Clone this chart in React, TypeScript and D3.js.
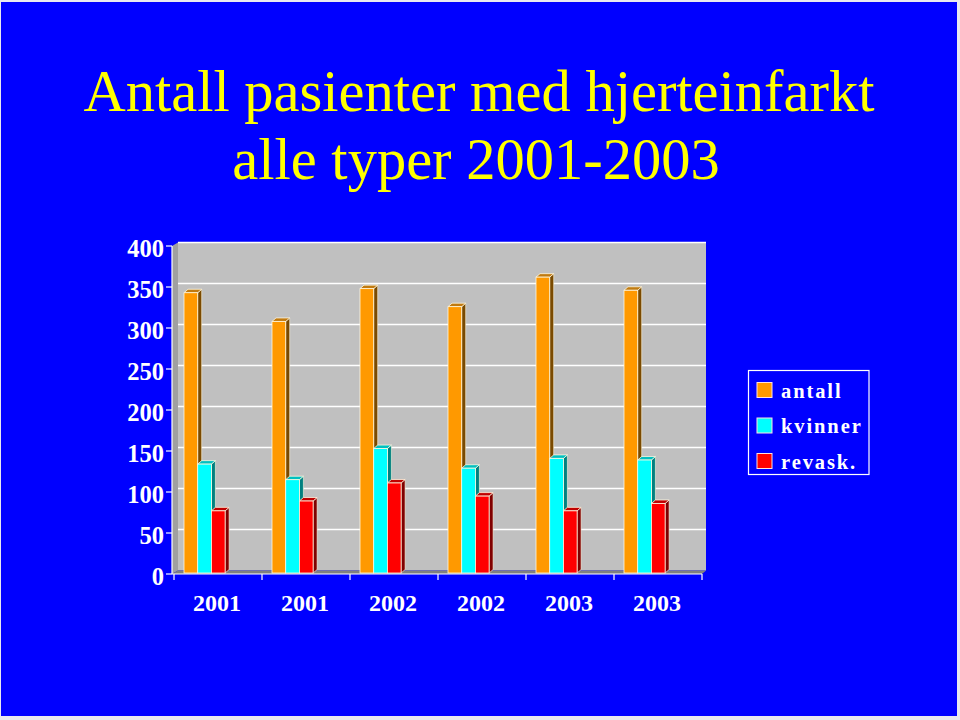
import React from "react";
import * as d3 from "d3";

const categories = ["2001", "2001", "2002", "2002", "2003", "2003"];
const seriesNames = ["antall", "kvinner", "revask."];
const antall = [343, 308, 348, 326, 362, 346];
const kvinner = [134, 115, 153, 129, 141, 139];
const revask = [77, 89, 111, 95, 77, 86];
const yTicks = [0, 50, 100, 150, 200, 250, 300, 350, 400];

const frontColors = ["#FF9900", "#00FFFF", "#FF0000"];
const sideColors = ["#7A4A00", "#008080", "#800000"];
const topColors = ["#C07A10", "#00C0C0", "#C00000"];

const W = 960;
const H = 720;
const x0 = 174;
const x1 = 702;
const yTop = 246;
const yBot = 574;
const DX = 4;
const DY = -3.5;

export default function App() {
  const series = [antall, kvinner, revask];
  const y = d3.scaleLinear().domain([0, 400]).range([yBot, yTop]);
  const xBand = d3.scaleBand<number>().domain(d3.range(categories.length)).range([x0, x1]).padding(0);
  const bw = 13.7;
  const innerOffset = 10;

  const bars: React.ReactNode[] = [];
  categories.forEach((_, ci) => {
    series.forEach((vals, si) => {
      const v = vals[ci];
      const bx = (xBand(ci) as number) + innerOffset + si * bw;
      const by = y(v);
      const bb = y(0) - 1;
      bars.push(
        <g key={`b-${ci}-${si}`}>
          <polygon
            points={`${bx + bw},${by} ${bx + bw + DX},${by + DY} ${bx + bw + DX},${bb + DY} ${bx + bw},${bb}`}
            fill={sideColors[si]}
            stroke="#FFF8E0"
            strokeWidth={0.6}
          />
          <polygon
            points={`${bx},${by} ${bx + DX},${by + DY} ${bx + bw + DX},${by + DY} ${bx + bw},${by}`}
            fill={topColors[si]}
            stroke="#FFF8E0"
            strokeWidth={0.8}
          />
          <rect x={bx} y={by} width={bw} height={bb - by} fill={frontColors[si]} stroke="#FFF8E0" strokeWidth={0.8} />
        </g>
      );
    });
  });

  const serif = "'Liberation Serif', 'Times New Roman', serif";

  return (
    <svg width={W} height={H} style={{ display: "block", position: "absolute", left: 0, top: 0 }}>
      <rect x={0} y={0} width={W} height={H} fill="#E8E8F0" />
      <rect x={1} y={2} width={956} height={714} fill="#0000FF" />

      <text x={479} y={111} textAnchor="middle" fill="#FFFF00" fontFamily={serif} fontSize={58.5}>
        Antall pasienter med hjerteinfarkt
      </text>
      <text x={476} y={179} textAnchor="middle" fill="#FFFF00" fontFamily={serif} fontSize={58.5}>
        alle typer 2001-2003
      </text>

      {/* walls */}
      <polygon
        points={`${x0 + DX},${yTop + DY} ${x1 + DX},${yTop + DY} ${x1 + DX},${yBot + DY} ${x0 + DX},${yBot + DY}`}
        fill="#C0C0C0"
      />
      <polygon
        points={`${x0 - 2},${yTop} ${x0 + DX},${yTop + DY} ${x0 + DX},${yBot + DY} ${x0 - 2},${yBot}`}
        fill="#A0A0A0"
      />
      {yTicks.filter((t) => t > 0).map((t) => (
        <line
          key={`g-${t}`}
          x1={x0 + DX}
          x2={x1 + DX}
          y1={y(t) + DY}
          y2={y(t) + DY}
          stroke="#FFFFFF"
          strokeWidth={1.5}
        />
      ))}
      <polygon
        points={`${x0 - 2},${yBot} ${x0 + DX},${yBot + DY} ${x1 + DX},${yBot + DY} ${x1},${yBot}`}
        fill="#808080"
      />

      {bars}

      {/* axes */}
      <line x1={x0 - 2} x2={x0 - 2} y1={yTop} y2={yBot} stroke="#FFFFFF" strokeWidth={1.2} />
      <line x1={x0 - 2} x2={x1} y1={yBot} y2={yBot} stroke="#FFFFFF" strokeWidth={1.2} />
      {yTicks.map((t) => (
        <g key={`yt-${t}`}>
          <line x1={x0 - 8} x2={x0 - 2} y1={y(t)} y2={y(t)} stroke="#FFFFFF" strokeWidth={1.2} />
          <text
            x={164}
            y={y(t) + 10.5}
            textAnchor="end"
            fill="#FFFFFF"
            fontWeight="bold"
            fontFamily={serif}
            fontSize={24.5}
          >
            {t}
          </text>
        </g>
      ))}
      {d3.range(categories.length + 1).map((i) => (
        <line
          key={`xt-${i}`}
          x1={x0 + i * xBand.bandwidth()}
          x2={x0 + i * xBand.bandwidth()}
          y1={yBot}
          y2={yBot + 6}
          stroke="#FFFFFF"
          strokeWidth={1.2}
        />
      ))}
      {categories.map((c, i) => (
        <text
          key={`xl-${i}`}
          x={(xBand(i) as number) + xBand.bandwidth() / 2 - 1}
          y={610.5}
          textAnchor="middle"
          fill="#FFFFFF"
          fontWeight="bold"
          fontFamily={serif}
          fontSize={24}
        >
          {c}
        </text>
      ))}

      {/* legend */}
      <rect x={748.5} y={370.5} width={120.5} height={104} fill="none" stroke="#FFFFFF" strokeWidth={1.2} />
      {seriesNames.map((n, i) => (
        <g key={`lg-${i}`}>
          <rect x={757} y={382.5 + i * 35.5} width={15} height={15} fill={frontColors[i]} stroke="#FFE0E0" strokeWidth={1} />
          <text
            x={781}
            y={397.5 + i * 35.5}
            fill="#FFFFFF"
            fontWeight="bold"
            fontFamily={serif}
            fontSize={20.5}
            letterSpacing={1.9}
          >
            {n}
          </text>
        </g>
      ))}
    </svg>
  );
}
